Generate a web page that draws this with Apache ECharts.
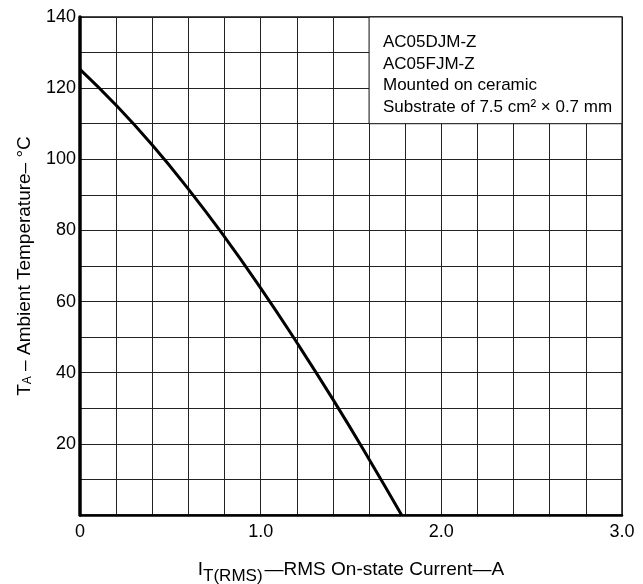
<!DOCTYPE html>
<html>
<head>
<meta charset="utf-8">
<script src="https://cdn.jsdelivr.net/npm/echarts@6/dist/echarts.min.js"></script>
<style>
html,body{margin:0;padding:0;background:#fff;}
#c{width:643px;height:584px;}
</style>
</head>
<body>
<div id="c"></div>
<script>
const currentA = [0, 0.2, 0.4, 0.6, 0.8, 1.0, 1.2, 1.4, 1.6, 1.78];
const tempC = [125.3, 115.2, 104.0, 91.6, 78.2, 63.8, 48.5, 32.5, 15.7, 0];
const xTickLabels = {0: '0', 1: '1.0', 2: '2.0', 3: '3.0'};
const yTickLabels = [20, 40, 60, 80, 100, 120, 140];
const noteLines = ['AC05DJM-Z', 'AC05FJM-Z', 'Mounted on ceramic', 'Substrate of 7.5 cm\u00B2 \u00D7 0.7 mm'];
const noteArea = {x0: 1.6, x1: 3.0, y0: 110, y1: 140};

const FONT = '"Liberation Sans", Arial, Helvetica, sans-serif';
const chart = echarts.init(document.getElementById('c'));
const pts = currentA.map((v, i) => [v, tempC[i]]);

chart.setOption({
  animation: false,
  backgroundColor: '#fff',
  grid: {left: 80, right: 21, top: 17, bottom: 69, outerBoundsMode: 'none', containLabel: false,
         show: true, borderColor: '#111', borderWidth: 1.5, backgroundColor: 'transparent'},
  xAxis: {
    type: 'value', min: 0, max: 3, interval: 0.2,
    axisLine: {show: true, lineStyle: {color: '#000', width: 2.5}},
    axisTick: {show: false},
    splitLine: {show: true, lineStyle: {color: '#222', width: 1}},
    axisLabel: {
      color: '#000', fontSize: 18, fontFamily: FONT, margin: 8,
      formatter: function (v) {
        const r = Math.round(v);
        if (Math.abs(v - r) < 1e-6 && xTickLabels[r] !== undefined) return xTickLabels[r];
        return '';
      }
    },
    name: '{i|I}{sub|T(RMS)}{t|\u2014RMS On-state Current\u2014A}',
    nameLocation: 'middle', nameGap: 45,
    nameTextStyle: {
      rich: {
        i: {fontSize: 19, fontFamily: FONT, color: '#000', verticalAlign: 'bottom', padding: [0, 0, 6, 0]},
        sub: {fontSize: 17, fontFamily: FONT, color: '#000', verticalAlign: 'bottom', padding: [0, 2, 0, 0]},
        t: {fontSize: 19, fontFamily: FONT, color: '#000', verticalAlign: 'bottom', padding: [0, 0, 6, 0]}
      }
    }
  },
  yAxis: {
    type: 'value', min: 0, max: 140, interval: 10,
    axisLine: {show: true, lineStyle: {color: '#000', width: 3.5}},
    axisTick: {show: false},
    splitLine: {show: true, lineStyle: {color: '#222', width: 1}},
    axisLabel: {
      color: '#000', fontSize: 18, fontFamily: FONT, margin: 4,
      formatter: function (v) {
        const r = Math.round(v);
        return yTickLabels.indexOf(r) >= 0 ? String(r) : '';
      }
    },
    name: '{t|T}{sub|A}{r| \u2013 Ambient Temperature\u2013 \u00B0C}',
    nameLocation: 'middle', nameGap: 46,
    nameTextStyle: {
      rich: {
        t: {fontSize: 19, fontFamily: FONT, color: '#000', verticalAlign: 'bottom'},
        sub: {fontSize: 12, fontFamily: FONT, color: '#000', verticalAlign: 'bottom'},
        r: {fontSize: 19, fontFamily: FONT, color: '#000', verticalAlign: 'bottom'}
      }
    }
  },
  series: [{
    type: 'line',
    data: pts,
    smooth: 0.5,
    symbol: 'none',
    lineStyle: {color: '#000', width: 3},
    z: 5,
    markArea: {
      silent: true,
      itemStyle: {color: '#fff', borderColor: '#111', borderWidth: 1},
      data: [[{coord: [noteArea.x0, noteArea.y1]}, {coord: [noteArea.x1, noteArea.y0]}]]
    }
  }],
  graphic: [{
    type: 'text',
    left: 383, top: 32,
    z: 10,
    style: {
      text: noteLines.join('\n'),
      font: '17px ' + FONT,
      fill: '#000',
      lineHeight: 21.5
    }
  }]
});
</script>
</body>
</html>
